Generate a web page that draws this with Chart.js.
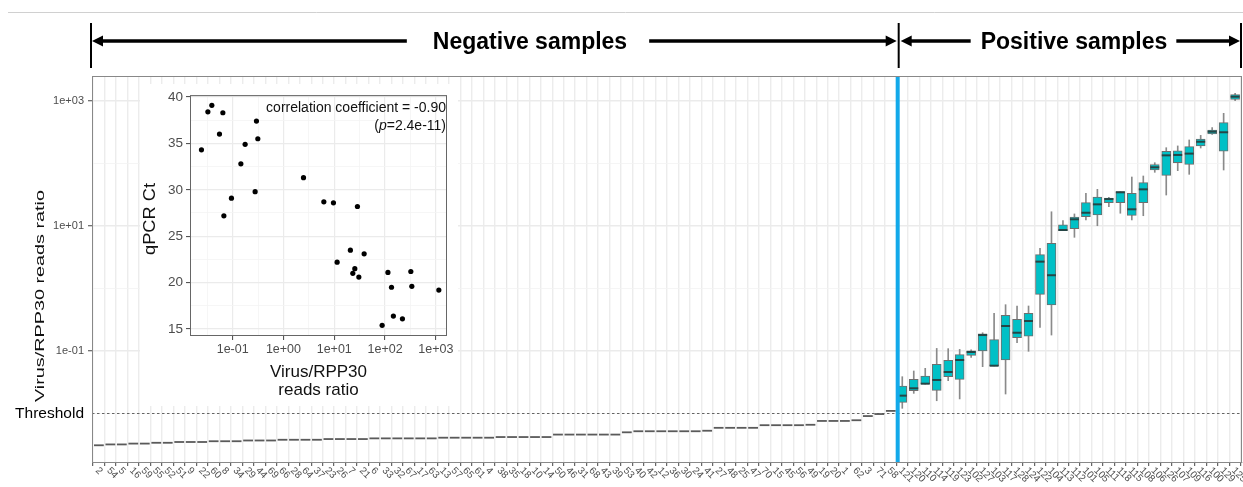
<!DOCTYPE html>
<html><head><meta charset="utf-8">
<script src="https://cdn.jsdelivr.net/npm/chart.js@4.4.1/dist/chart.umd.min.js"></script>
<style>
html,body{margin:0;padding:0;background:#fff;}
#wrap{position:relative;width:1243px;height:487px;overflow:hidden;}
#main{position:absolute;left:0;top:0;width:1243px;height:487px;}
#insetBox{position:absolute;left:140px;top:84px;width:318px;height:322px;background:#fff;}
#inset{width:318px;height:322px;}
</style></head><body>
<div id="wrap">
<canvas id="main" width="1243" height="487"></canvas>
<div id="insetBox"><canvas id="inset" width="318" height="322"></canvas></div>
</div>
<script>
// ---------- DATA ----------
const negLabels = ['2','54','5','16','59','55','52','51','9','22','60','8','34','29','44','69','66','28','64','37','23','26','7','21',
  '6','33','32','67','17','63','13','57','65','61','4','38','35','18','10','14','50','46','31','68','43','39','53',
  '40','42','12','36','30','24','41','27','48','25','47','70','15','45','56','49','19','20','1','62','3','71','58'];
const posLabels = ['121','120','110','114','119','123','102','127','103','117','128','124','122','104','113',
  '112','101','105','111','118','115','108','106','126','107','109','116','100','129','125'];
// negative samples: single ratio value each
const negRatio = [0.0031,0.0032,0.0032,0.0033,0.0033,0.0034,0.0034,0.0035,0.0035,0.0035,
  0.0036,0.0036,0.0036,0.0037,0.0037,0.0037,0.0038,0.0038,0.0038,0.0038,
  0.0039,0.0039,0.0039,0.0039,0.0040,0.0040,0.0040,0.0040,0.0040,0.0040,
  0.0041,0.0041,0.0041,0.0041,0.0041,0.0042,0.0042,0.0042,0.0042,0.0042,
  0.0046,0.0046,0.0046,0.0046,0.0046,0.0046,0.0050,0.0052,0.0052,0.0052,
  0.0052,0.0052,0.0052,0.0053,0.0059,0.0059,0.0059,0.0059,0.0065,0.0065,
  0.0065,0.0065,0.0066,0.0076,0.0076,0.0076,0.0078,0.0091,0.0098,0.011];
// positive samples: box statistics
const posMin    = [0.0121,0.0210,0.0295,0.0160,0.0335,0.0171,0.0793,0.0561,0.0575,0.0205,0.136,0.0989,0.239,0.180,8.41,6.59,12.5,10.1,20.4,16.0,12.5,14.6,72.3,31.3,76.7,67.1,177,293,78.7,1012];
const posQ1     = [0.0151,0.0232,0.0296,0.0235,0.0388,0.0352,0.0853,0.100,0.0575,0.0718,0.163,0.172,0.807,0.545,8.41,9.06,14.1,15.0,23.6,23.6,14.8,23.6,78.7,64.7,103,97.1,191,296,157,1064];
const posMedian = [0.0193,0.0253,0.0300,0.0344,0.0461,0.0718,0.0964,0.180,0.0582,0.251,0.196,0.302,2.69,1.63,8.63,12.8,16.3,22.2,27.0,34.6,18.5,38.6,86.9,135,137,144,223,323,316,1172];
const posQ3     = [0.0275,0.0352,0.0398,0.0612,0.0710,0.0873,0.101,0.189,0.152,0.372,0.321,0.401,3.48,5.28,10.4,13.9,23.6,29.1,28.1,35.4,33.3,49.3,95.7,157,160,186,247,344,450,1262];
const posMax    = [0.0388,0.0479,0.0528,0.110,0.109,0.106,0.104,0.196,0.401,0.551,0.525,0.525,4.40,16.9,12.2,15.6,33.3,38.6,28.8,35.4,60.8,63.1,103,179,191,238,282,374,635,1327];
const thresholdValue = 0.01;
const yTickValues = [0.01,0.1,1,10,100,1000];
const yTickLabels = ['Threshold','1e-01','','1e+01','','1e+03'];
// inset scatter
const ctRatio = [0.0243,0.0325,0.0389,0.0550,0.0641,0.0671,0.0946,0.145,0.176,0.277,0.294,0.313,2.48,6.24,9.64,28.6,11.4,20.8,38.8,25.4,23.2,30.5,114,134,146,87.7,220,322,337,1146];
const ctValue = [34.3,38.4,39.1,36.0,38.3,27.2,29.1,32.8,34.9,29.8,37.4,35.5,31.3,28.7,28.6,28.2,22.2,23.5,23.1,21.5,21.0,20.6,21.1,19.5,16.4,15.4,16.1,21.2,19.6,19.2];
const insetXTickValues = [Math.pow(10,-1.5),0.1,Math.pow(10,-0.5),1,Math.pow(10,0.5),10,Math.pow(10,1.5),100,Math.pow(10,2.5),1000];
const insetXTickLabels = ['','1e-01','','1e+00','','1e+01','','1e+02','','1e+03'];
const insetYTickValues = [15,17.5,20,22.5,25,27.5,30,32.5,35,37.5,40];
const insetYTickLabels = ['15','','20','','25','','30','','35','','40'];
const corrText = 'correlation coefficient = -0.90';
const pText = '=2.4e-11)';
const headerNeg = 'Negative samples';
const headerPos = 'Positive samples';
const mainYTitle = 'Virus/RPP30 reads ratio';
const insetYTitle = 'qPCR Ct';
const insetXTitle = ['Virus/RPP30','reads ratio'];

// ---------- SETUP ----------
const FONT = '"Liberation Sans", Arial, Helvetica, sans-serif';
Chart.defaults.font.family = FONT;
const categories = negLabels.concat(posLabels);
const nNeg = negLabels.length;
const nCat = categories.length;
const dividerPos = nNeg - 0.4;

function stretchedText(ctx, text, x, y, rot, font, targetLen, color){
  ctx.save();
  ctx.font = font; ctx.fillStyle = color;
  const w = ctx.measureText(text).width;
  ctx.translate(x, y); ctx.rotate(rot);
  ctx.scale(targetLen / w, 1);
  ctx.textAlign = 'center'; ctx.textBaseline = 'middle';
  ctx.fillText(text, 0, 0);
  ctx.restore();
}
function arrowLine(ctx, x1, x2, y, headL, headR){
  ctx.beginPath(); ctx.moveTo(x1 + (headL?6:0), y); ctx.lineTo(x2 - (headR?6:0), y); ctx.stroke();
  if (headL){ ctx.beginPath(); ctx.moveTo(x1, y); ctx.lineTo(x1+11, y-5.5); ctx.lineTo(x1+11, y+5.5); ctx.closePath(); ctx.fill(); }
  if (headR){ ctx.beginPath(); ctx.moveTo(x2, y); ctx.lineTo(x2-11, y-5.5); ctx.lineTo(x2-11, y+5.5); ctx.closePath(); ctx.fill(); }
}

const mainDecor = {
  id: 'mainDecor',
  beforeDatasetsDraw(chart){
    const {ctx, chartArea:a, scales:{y}} = chart;
    const ty = y.getPixelForValue(thresholdValue);
    ctx.save(); ctx.strokeStyle = '#555'; ctx.lineWidth = 0.9; ctx.setLineDash([2.5,2.5]);
    ctx.beginPath(); ctx.moveTo(a.left, ty); ctx.lineTo(a.right, ty); ctx.stroke(); ctx.restore();
  },
  afterDatasetsDraw(chart){
    const {ctx, chartArea:a, scales:{x}} = chart;
    const dx = x.getPixelForValue(dividerPos);
    ctx.save(); ctx.fillStyle = '#12A9EA'; ctx.fillRect(dx-2, a.top, 4, a.bottom - a.top); ctx.restore();
  },
  afterDraw(chart){
    const {ctx, chartArea:a, scales:{x}} = chart;
    ctx.save();
    // panel border
    ctx.strokeStyle = '#888'; ctx.lineWidth = 1;
    ctx.strokeRect(a.left + 0.5, a.top + 0.5, a.right - a.left - 1, a.bottom - a.top);
    // x tick labels rotated clockwise
    ctx.fillStyle = '#4d4d4d'; ctx.font = '10px ' + FONT;
    ctx.textAlign = 'left'; ctx.textBaseline = 'middle';
    for (let i = 0; i < nCat; i++){
      const px = x.getPixelForValue(i);
      ctx.save(); ctx.translate(px - 2, a.bottom + 7); ctx.rotate(Math.PI/4);
      ctx.fillText(categories[i], 0, 0); ctx.restore();
    }
    // y title
    stretchedText(ctx, mainYTitle, 40, 296, -Math.PI/2, '13px ' + FONT, 212, '#111');
    // top separator
    ctx.strokeStyle = '#d0d0d0'; ctx.lineWidth = 1;
    ctx.beginPath(); ctx.moveTo(8, 12.5); ctx.lineTo(1243, 12.5); ctx.stroke();
    // header
    const dx = x.getPixelForValue(dividerPos);
    const hy = 41;
    ctx.strokeStyle = '#000'; ctx.fillStyle = '#000';
    ctx.lineWidth = 2;
    [a.left - 1, dx + 1, a.right - 1].forEach(bx => {
      ctx.beginPath(); ctx.moveTo(bx, 23); ctx.lineTo(bx, 68); ctx.stroke();
    });
    ctx.font = 'bold 23px ' + FONT; ctx.textAlign = 'center'; ctx.textBaseline = 'alphabetic';
    const negX = 530, posX = 1074;
    const wn = ctx.measureText(headerNeg).width, wp = ctx.measureText(headerPos).width;
    ctx.fillText(headerNeg, negX, 49);
    ctx.fillText(headerPos, posX, 49);
    ctx.lineWidth = 3.5;
    arrowLine(ctx, a.left, negX - wn/2 - 26, hy, true, false);
    arrowLine(ctx, negX + wn/2 + 22, dx - 1, hy, false, true);
    arrowLine(ctx, dx + 3, posX - wp/2 - 10, hy, true, false);
    arrowLine(ctx, posX + wp/2 + 9, a.right - 2, hy, false, true);
    ctx.restore();
  }
};

const isMajorY = v => [0.1,10,1000].some(m => Math.abs(v - m) < 1e-9);
new Chart(document.getElementById('main'), {
  type: 'bar',
  data: { datasets: [
    { type:'bar', label:'whisker', grouped:false, order:3, barThickness:1,
      data: posLabels.map((_,k) => ({x: nNeg + k, y: [posMin[k], posMax[k]]})),
      backgroundColor:'#8a8a8a', borderWidth:0 },
    { type:'bar', label:'box', grouped:false, order:2, barThickness:9,
      data: posLabels.map((_,k) => ({x: nNeg + k, y: [posQ1[k], posQ3[k]]})),
      backgroundColor:'#00C0C6', borderColor:'#6e6e6e', borderWidth:1, borderSkipped:false },
    { type:'scatter', label:'median', order:1,
      data: posLabels.map((_,k) => ({x: nNeg + k, y: posMedian[k]})),
      pointStyle:'line', pointRadius:4.5, pointBorderWidth:2, pointBorderColor:'#254545', pointBackgroundColor:'#254545' },
    { type:'scatter', label:'negative', order:1,
      data: negLabels.map((_,k) => ({x: k, y: negRatio[k]})),
      pointStyle:'line', pointRadius:4.9, pointBorderWidth:1.8, pointBorderColor:'#5a5a5a', pointBackgroundColor:'#5a5a5a' }
  ]},
  options: {
    responsive:false, animation:false, devicePixelRatio:1, events:[],
    layout:{ autoPadding:false, padding:{ top:76, right:1, bottom:0, left:0 } },
    plugins:{ legend:{display:false}, tooltip:{enabled:false} },
    scales:{
      x:{ type:'linear', min:-0.6, max:nCat - 1 + 0.6, offset:false,
        afterBuildTicks: s => { s.ticks = categories.map((_,i) => ({value:i})); },
        afterFit: s => { s.height = 25; },
        ticks:{ display:false },
        grid:{ color:'#ececec', lineWidth:1.4, tickLength:4, tickColor:'#444', tickWidth:1, drawTicks:true },
        border:{ display:true, color:'#888', width:1 } },
      y:{ type:'logarithmic', min:Math.pow(10,-2.776), max:Math.pow(10,3.4),
        afterBuildTicks: s => { s.ticks = yTickValues.map(v => ({value:v})); },
        afterFit: s => { s.width = 92; },
        ticks:{ padding:4, autoSkip:false,
          callback: (v) => { const i = yTickValues.findIndex(t => Math.abs(t - v) < 1e-12); return i >= 0 ? yTickLabels[i] : ''; },
          font: c => (c.tick && Math.abs(c.tick.value - thresholdValue) < 1e-12) ? {size:15.5, family:FONT} : {size:11, family:FONT},
          color: c => (c.tick && Math.abs(c.tick.value - thresholdValue) < 1e-12) ? '#000' : '#4d4d4d' },
        grid:{ color: c => (c.tick && isMajorY(c.tick.value)) ? '#ebebeb' : '#f3f3f3',
          lineWidth: c => (c.tick && isMajorY(c.tick.value)) ? 1.5 : 0.8,
          tickLength:4, tickWidth:1,
          tickColor: c => (c.tick && isMajorY(c.tick.value)) ? '#444' : 'rgba(0,0,0,0)' },
        border:{ display:true, color:'#888', width:1 } }
    }
  },
  plugins:[mainDecor]
});

// ---------- INSET ----------
const insetDecor = {
  id:'insetDecor',
  afterDraw(chart){
    const {ctx, chartArea:a} = chart;
    ctx.save();
    ctx.strokeStyle = '#666'; ctx.lineWidth = 1;
    ctx.strokeRect(a.left + 0.5, a.top + 0.5, a.right - a.left - 1, a.bottom - a.top - 1);
    // annotation
    ctx.fillStyle = '#111'; ctx.font = '14px ' + FONT; ctx.textAlign = 'right'; ctx.textBaseline = 'alphabetic';
    ctx.fillText(corrText, a.right - 1, 28);
    const wRest = ctx.measureText(pText).width;
    ctx.fillText(pText, a.right - 1, 46);
    ctx.font = 'italic 14px ' + FONT;
    const wp = ctx.measureText('p').width;
    ctx.fillText('p', a.right - 1 - wRest, 46);
    ctx.font = '14px ' + FONT;
    ctx.fillText('(', a.right - 1 - wRest - wp, 46);
    // titles
    stretchedText(ctx, insetYTitle, 11, 135, -Math.PI/2, '16px ' + FONT, 72, '#111');
    ctx.fillStyle = '#111'; ctx.font = '17px ' + FONT; ctx.textAlign = 'center'; ctx.textBaseline = 'alphabetic';
    const cx = (a.left + a.right) / 2;
    ctx.fillText(insetXTitle[0], cx, 293);
    ctx.fillText(insetXTitle[1], cx, 311);
    ctx.restore();
  }
};
const isMajorX = v => insetXTickLabels[insetXTickValues.findIndex(t => Math.abs(t - v) / t < 1e-9)] !== '';
const isMajorCt = v => v % 5 === 0;
new Chart(document.getElementById('inset'), {
  type:'scatter',
  data:{ datasets:[{ data: ctRatio.map((r,i) => ({x:r, y:ctValue[i]})),
    pointRadius:2.6, pointBackgroundColor:'#000', pointBorderColor:'#000', pointBorderWidth:0 }]},
  options:{
    responsive:false, animation:false, devicePixelRatio:1, events:[],
    layout:{ autoPadding:false, padding:{ top:9, right:11, bottom:0, left:0 } },
    plugins:{ legend:{display:false}, tooltip:{enabled:false} },
    scales:{
      x:{ type:'logarithmic', min:Math.pow(10,-1.84), max:Math.pow(10,3.22),
        afterBuildTicks: s => { s.ticks = insetXTickValues.map(v => ({value:v})); },
        afterFit: s => { s.height = 70; },
        ticks:{ autoSkip:false, maxRotation:0, minRotation:0, padding:2, color:'#4d4d4d', font:{size:12.5},
          callback: v => { const i = insetXTickValues.findIndex(t => Math.abs(t - v) / t < 1e-9); return i >= 0 ? insetXTickLabels[i] : ''; } },
        grid:{ color: c => (c.tick && isMajorX(c.tick.value)) ? '#ebebeb' : '#f4f4f4',
          lineWidth: c => (c.tick && isMajorX(c.tick.value)) ? 1.2 : 0.8,
          tickLength:4, tickWidth:1,
          tickColor: c => (c.tick && isMajorX(c.tick.value)) ? '#444' : 'rgba(0,0,0,0)' },
        border:{ display:false } },
      y:{ type:'linear', min:14.25, max:40.2,
        afterBuildTicks: s => { s.ticks = insetYTickValues.map(v => ({value:v})); },
        afterFit: s => { s.width = 50; },
        ticks:{ autoSkip:false, padding:3, color:'#4d4d4d', font:{size:13.5},
          callback: v => { const i = insetYTickValues.indexOf(v); return i >= 0 ? insetYTickLabels[i] : ''; } },
        grid:{ color: c => (c.tick && isMajorCt(c.tick.value)) ? '#ebebeb' : '#f4f4f4',
          lineWidth: c => (c.tick && isMajorCt(c.tick.value)) ? 1.2 : 0.8,
          tickLength:4, tickWidth:1,
          tickColor: c => (c.tick && isMajorCt(c.tick.value)) ? '#444' : 'rgba(0,0,0,0)' },
        border:{ display:false } }
    }
  },
  plugins:[insetDecor]
});
</script>
</body></html>
